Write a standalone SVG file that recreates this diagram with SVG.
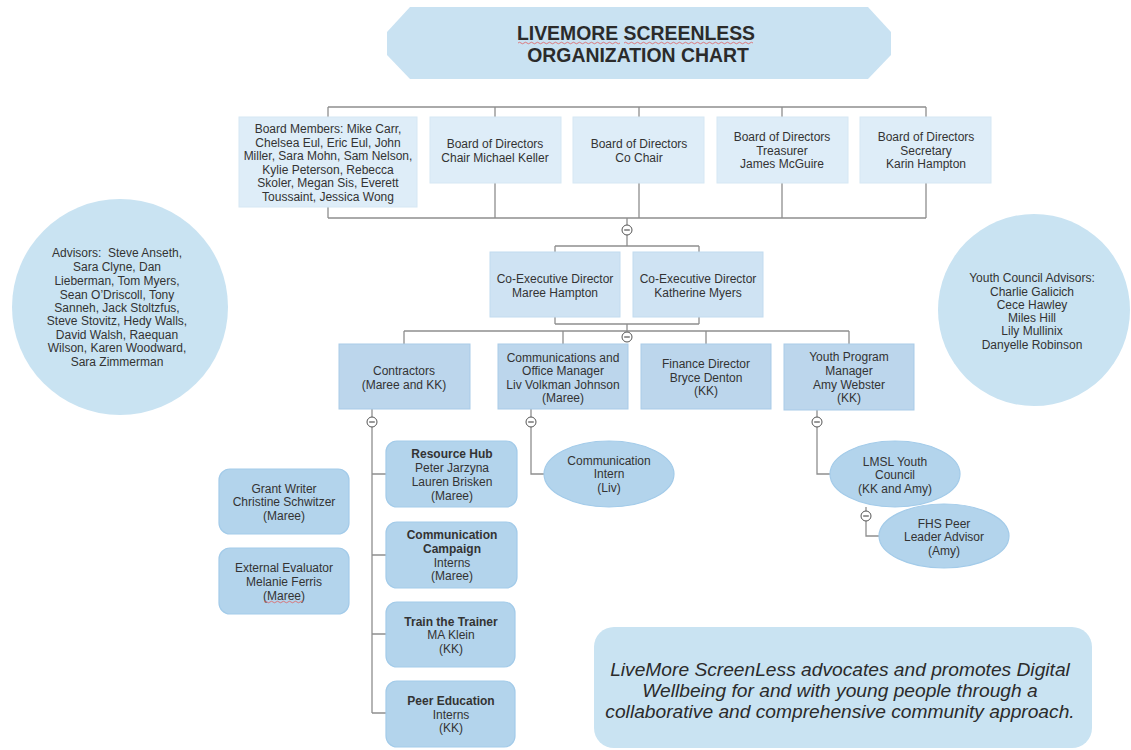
<svg xmlns="http://www.w3.org/2000/svg" width="1131" height="750" viewBox="0 0 1131 750">
<style>
text{font-family:"Liberation Sans",Arial,sans-serif;fill:#333;text-anchor:middle;font-size:12px}
.b{font-weight:bold}
.ttl{font-size:19.4px;font-weight:bold;fill:#2b2b2b}
.mis{font-size:19.2px;font-style:italic;fill:#2b2b2b}
.ln{fill:none;stroke:#8e8e8e;stroke-width:1.3}
.brd{fill:#deedf8;stroke:#d6e7f4;stroke-width:1}
.exe{fill:#cfe3f3;stroke:#c2dbef;stroke-width:1}
.mgr{fill:#bcd6ec;stroke:#a9cbe8;stroke-width:1}
.chd{fill:#b3d4ec;stroke:#a3cbe9;stroke-width:1.2}
.circ{fill:#c9e3f2}
.tog{fill:#fff;stroke:#555;stroke-width:1}
.sq{fill:none;stroke:#e06060;stroke-width:0.8}
</style>
<defs>
<g id="minus"><circle r="5" class="tog"/><line x1="-2.8" y1="0" x2="2.8" y2="0" stroke="#333" stroke-width="1"/></g>
</defs>
<rect width="1131" height="750" fill="#fff"/>

<g id="connectors">
<path class="ln" d="M328 107H926M328 107V218M495 107V218M639 107V218M782 107V218M926 107V218M328 218H926"/>
<path class="ln" d="M627 218V246M555 246H699M555 246V252M699 246V252"/>
<path class="ln" d="M555 317V324M699 317V324M555 324H699M627 324V331M404 331H849M404 331V344M563 331V344M706 331V344M849 331V344"/>
<path class="ln" d="M372 409V713M372 474H386M372 555H386M372 634H386M372 713H386"/>
<path class="ln" d="M531 409V474H544"/>
<path class="ln" d="M817 410V474H830"/>
<path class="ln" d="M866 507V536H879"/>
</g>

<g id="title">
<polygon points="410,7 868,7 891,32 891,55 868,79 410,79 387,55 387,32" fill="#c9e2f2"/>
<text class="ttl" x="636" y="40">LIVEMORE SCREENLESS</text>
<text class="ttl" x="638" y="62">ORGANIZATION CHART</text>
<path class="sq" d="M518 43q1.5 -1.5 3 0t3 0t3 0t3 0t3 0t3 0t3 0t3 0t3 0t3 0t3 0t3 0t3 0t3 0t3 0t3 0t3 0t3 0t3 0t3 0t3 0t3 0t3 0t3 0t3 0t3 0t3 0t3 0t3 0t3 0t3 0t3 0t3 0t3 0"/>
<path class="sq" d="M624 43q1.5 -1.5 3 0t3 0t3 0t3 0t3 0t3 0t3 0t3 0t3 0t3 0t3 0t3 0t3 0t3 0t3 0t3 0t3 0t3 0t3 0t3 0t3 0t3 0t3 0t3 0t3 0t3 0t3 0t3 0t3 0t3 0t3 0t3 0t3 0t3 0t3 0t3 0t3 0t3 0t3 0t3 0t3 0t3 0t3 0"/>
</g>

<g id="board-members">
<rect class="brd" x="239" y="117" width="178" height="90"/>
<text x="328" y="133">Board Members: Mike Carr,</text>
<text x="328" y="147">Chelsea Eul, Eric Eul, John</text>
<text x="328" y="160">Miller, Sara Mohn, Sam Nelson,</text>
<text x="328" y="174">Kylie Peterson, Rebecca</text>
<text x="328" y="187">Skoler, Megan Sis, Everett</text>
<text x="328" y="201">Toussaint, Jessica Wong</text>
</g>
<g id="board-chair">
<rect class="brd" x="430" y="117" width="131" height="66"/>
<text x="495" y="148">Board of Directors</text>
<text x="495" y="162">Chair Michael Keller</text>
</g>
<g id="board-cochair">
<rect class="brd" x="573" y="117" width="131" height="66"/>
<text x="639" y="148">Board of Directors</text>
<text x="639" y="162">Co Chair</text>
</g>
<g id="board-treasurer">
<rect class="brd" x="717" y="117" width="131" height="66"/>
<text x="782" y="141">Board of Directors</text>
<text x="782" y="155">Treasurer</text>
<text x="782" y="168">James McGuire</text>
</g>
<g id="board-secretary">
<rect class="brd" x="860" y="117" width="131" height="66"/>
<text x="926" y="141">Board of Directors</text>
<text x="926" y="155">Secretary</text>
<text x="926" y="168">Karin Hampton</text>
</g>

<g id="advisors">
<circle class="circ" cx="120" cy="307" r="108"/>
<text x="117" y="257" xml:space="preserve">Advisors:  Steve Anseth,</text>
<text x="117" y="271">Sara Clyne, Dan</text>
<text x="117" y="285">Lieberman, Tom Myers,</text>
<text x="117" y="299">Sean O’Driscoll, Tony</text>
<text x="117" y="312">Sanneh, Jack Stoltzfus,</text>
<text x="117" y="325">Steve Stovitz, Hedy Walls,</text>
<text x="117" y="339">David Walsh, Raequan</text>
<text x="117" y="352">Wilson, Karen Woodward,</text>
<text x="117" y="366">Sara Zimmerman</text>
</g>

<g id="youth-council-advisors">
<circle class="circ" cx="1034" cy="310" r="96"/>
<text x="1032" y="282">Youth Council Advisors:</text>
<text x="1032" y="296">Charlie Galicich</text>
<text x="1032" y="309">Cece Hawley</text>
<text x="1032" y="322">Miles Hill</text>
<text x="1032" y="335">Lily Mullinix</text>
<text x="1032" y="349">Danyelle Robinson</text>
</g>

<g id="exec-maree">
<rect class="exe" x="490" y="252" width="130" height="65"/>
<text x="555" y="283">Co-Executive Director</text>
<text x="555" y="297">Maree Hampton</text>
</g>
<g id="exec-katherine">
<rect class="exe" x="633" y="252" width="130" height="65"/>
<text x="698" y="283">Co-Executive Director</text>
<text x="698" y="297">Katherine Myers</text>
</g>

<g id="contractors">
<rect class="mgr" x="339" y="344" width="131" height="65"/>
<text x="404" y="375">Contractors</text>
<text x="404" y="389">(Maree and KK)</text>
</g>
<g id="comm-manager">
<rect class="mgr" x="498" y="344" width="130" height="65"/>
<text x="563" y="362">Communications and</text>
<text x="563" y="375">Office Manager</text>
<text x="563" y="389">Liv Volkman Johnson</text>
<text x="563" y="402">(Maree)</text>
</g>
<g id="finance-director">
<rect class="mgr" x="641" y="344" width="130" height="65"/>
<text x="706" y="368">Finance Director</text>
<text x="706" y="382">Bryce Denton</text>
<text x="706" y="395">(KK)</text>
</g>
<g id="youth-manager">
<rect class="mgr" x="784" y="344" width="130" height="66"/>
<text x="849" y="361">Youth Program</text>
<text x="849" y="375">Manager</text>
<text x="849" y="389">Amy Webster</text>
<text x="849" y="402">(KK)</text>
</g>

<g id="resource-hub">
<rect class="chd" x="386" y="441" width="131" height="66" rx="11"/>
<text class="b" x="452" y="458">Resource Hub</text>
<text x="452" y="472">Peter Jarzyna</text>
<text x="452" y="486">Lauren Brisken</text>
<text x="452" y="500">(Maree)</text>
</g>
<g id="communication-campaign">
<rect class="chd" x="386" y="522" width="131" height="66" rx="11"/>
<text class="b" x="452" y="539">Communication</text>
<text class="b" x="452" y="553">Campaign</text>
<text x="452" y="567">Interns</text>
<text x="452" y="580">(Maree)</text>
</g>
<g id="train-the-trainer">
<rect class="chd" x="386" y="602" width="129" height="65" rx="11"/>
<text class="b" x="451" y="626">Train the Trainer</text>
<text x="451" y="639">MA Klein</text>
<text x="451" y="653">(KK)</text>
</g>
<g id="peer-education">
<rect class="chd" x="386" y="681" width="129" height="66" rx="11"/>
<text class="b" x="451" y="705">Peer Education</text>
<text x="451" y="719">Interns</text>
<text x="451" y="732">(KK)</text>
</g>
<g id="grant-writer">
<rect class="chd" x="219" y="469" width="130" height="65" rx="11"/>
<text x="284" y="493">Grant Writer</text>
<text x="284" y="506">Christine Schwitzer</text>
<text x="284" y="520">(Maree)</text>
</g>
<g id="external-evaluator">
<rect class="chd" x="219" y="548" width="130" height="66" rx="11"/>
<text x="284" y="572">External Evaluator</text>
<text x="284" y="586">Melanie Ferris</text>
<text x="284" y="600">(Maree)</text>
<path class="sq" d="M264 602q1.5 -1.5 3 0t3 0t3 0t3 0t3 0t3 0t3 0t3 0t3 0t3 0t3 0t3 0t3 0"/>
</g>

<g id="communication-intern">
<ellipse class="chd" cx="609" cy="474" rx="65" ry="33"/>
<text x="609" y="465">Communication</text>
<text x="609" y="478">Intern</text>
<text x="609" y="492">(Liv)</text>
</g>
<g id="lmsl-youth-council">
<ellipse class="chd" cx="895" cy="474" rx="65" ry="33"/>
<text x="895" y="466">LMSL Youth</text>
<text x="895" y="479">Council</text>
<text x="895" y="493">(KK and Amy)</text>
</g>
<g id="fhs-peer-leader">
<ellipse class="chd" cx="944" cy="536" rx="65" ry="32"/>
<text x="944" y="528">FHS Peer</text>
<text x="944" y="541">Leader Advisor</text>
<text x="944" y="555">(Amy)</text>
</g>

<g id="toggles">
<use href="#minus" x="627" y="230"/>
<use href="#minus" x="627" y="337"/>
<use href="#minus" x="372" y="422"/>
<use href="#minus" x="531" y="422"/>
<use href="#minus" x="817" y="422"/>
<use href="#minus" x="866" y="516"/>
</g>

<g id="mission">
<rect x="594" y="627" width="498" height="121" rx="20" fill="#c9e3f2"/>
<text class="mis" x="840" y="676">LiveMore ScreenLess advocates and promotes Digital</text>
<text class="mis" x="840" y="697">Wellbeing for and with young people through a</text>
<text class="mis" x="840" y="718">collaborative and comprehensive community approach.</text>
</g>
</svg>
